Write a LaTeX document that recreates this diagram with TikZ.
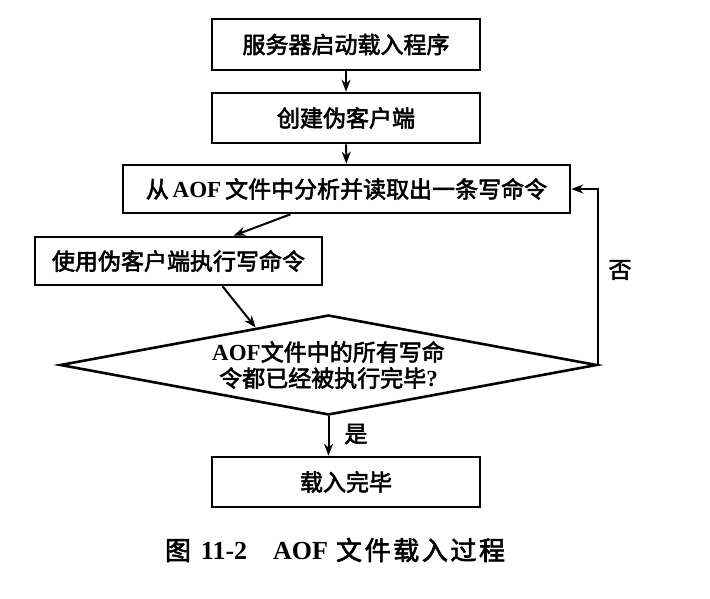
\documentclass[tikz,border=0pt]{standalone}
\usepackage{fontspec}
\setmainfont{Liberation Serif}
\newfontfamily\cjk[FakeBold=2.5]{Noto Sans CJK SC}
\usetikzlibrary{shapes.geometric,arrows.meta,calc}
\newcommand{\ck}{\kern1.3pt}
\begin{document}
\begin{tikzpicture}[x=0.5pt,y=-0.5pt,
  box/.style={draw,line width=1.3pt,minimum width=#1,minimum height=25pt,inner sep=0pt,
    font=\fontsize{11.5}{13.5}\selectfont},
  dia/.style={diamond,draw,line width=1.3pt,aspect=5.37,minimum width=268.5pt,minimum height=50pt,
    inner sep=0pt,align=center,font=\fontsize{11.5}{13}\selectfont},
  conn/.style={line width=1pt,-{Stealth[length=6pt,width=4.5pt]}},
  lbl/.style={font=\fontsize{11.5}{13.5}\selectfont,inner sep=0pt}]
\useasboundingbox (0,0) rectangle (710,598);
\node[box=134pt,minimum height=25.5pt] (b1) at (346,44.5) {{\cjk 服务器启动载入程序}};
\node[box=134pt] (b2) at (346,118) {{\cjk 创建伪客户端}};
\node[box=223.5pt,minimum height=24pt] (b3) at (346.5,189) {{\cjk 从}\,\textbf{AOF}\,{\cjk 文件中分析并读取出一条写命令}};
\node[box=143.5pt,minimum height=24pt] (b4) at (178.5,261) {{\cjk 使用伪客户端执行写命令}};
\node[dia] (d) at (328.5,365) {\textbf{AOF}{\cjk 文件中的所有写命}\\{\cjk 令都已经被执行完毕}\textbf{?}};
\node[box=134pt] (b5) at (346,482) {{\cjk 载入完毕}};
\node[lbl] (yes) at (356,434) {{\cjk 是}};
\node[lbl] (no) at (620,270) {{\cjk 否}};
\node[lbl,font=\fontsize{13}{15}\selectfont] (cap) at (335,550) {{\cjk 图}\hspace{5pt}\textbf{11-2}\hspace{13pt}\textbf{AOF}\hspace{4pt}{\cjk 文\ck 件\ck 载\ck 入\ck 过\ck 程}};
\draw[conn] (b1) -- (b2);
\draw[conn] (b2) -- (b3);
\draw[conn] ([xshift=-28pt]b3.south) -- ([xshift=27.5pt]b4.north);
\draw[conn] ([xshift=22pt]b4.south) -- ($(d.west)!0.73!(d.north)$);
\draw[conn] (d.east) |- (b3.east);
\draw[conn] (d.south) -- (d.south |- b5.north);
\end{tikzpicture}
\end{document}
